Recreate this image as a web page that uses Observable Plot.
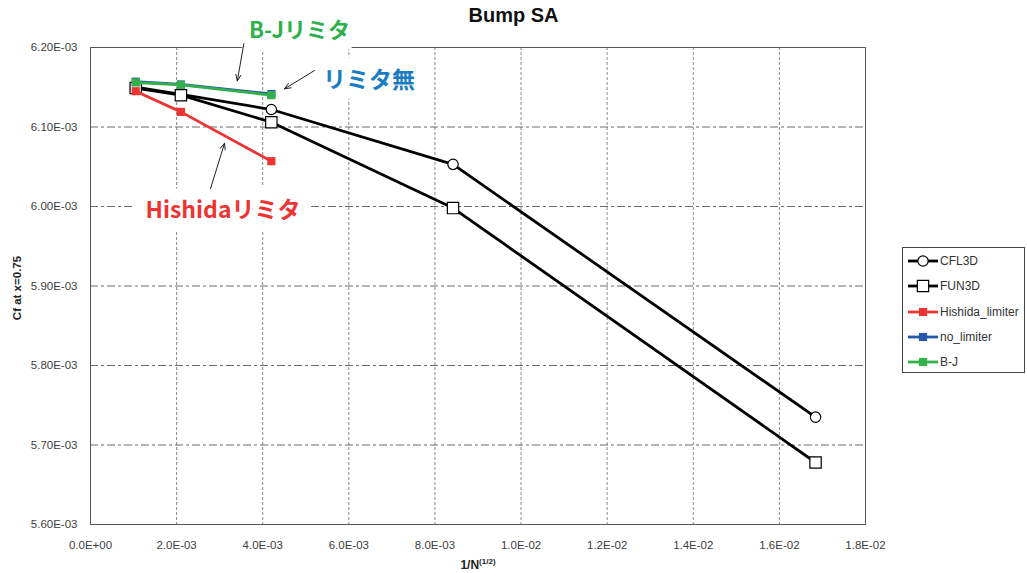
<!DOCTYPE html>
<html>
<head>
<meta charset="utf-8">
<script src="https://cdn.jsdelivr.net/npm/d3@7"></script>
<script src="https://cdn.jsdelivr.net/npm/@observablehq/plot@0.6"></script>
<style>
  html, body { margin: 0; padding: 0; background: white; }
  #wrap { position: relative; width: 1027px; height: 573px; overflow: hidden; font-family: "Liberation Sans", sans-serif; }
  #title { position: absolute; left: 0; width: 1027px; top: 4px; text-align: center; font: bold 20px "Liberation Sans", sans-serif; color: #111; }
  #xlabel { position: absolute; left: 478px; top: 564px; transform: translate(-50%, -50%); font: bold 12px "Liberation Sans", sans-serif; color: #222; white-space: nowrap; }
  #xlabel sup { font-size: 8px; }
  #ylabel { position: absolute; left: 17px; top: 288px; transform: translate(-50%, -50%) rotate(-90deg); font: bold 11.5px "Liberation Sans", sans-serif; color: #222; white-space: nowrap; }
  #legend { position: absolute; left: 902px; top: 247px; width: 123px; height: 126px; border: 1px solid #444; background: white; box-sizing: border-box; }
  .item { position: absolute; left: 4px; height: 14px; display: flex; align-items: center; font: 12px "Liberation Sans", sans-serif; color: #333; white-space: nowrap; }
  .item svg { margin-right: 1px; }
</style>
</head>
<body>
<div id="wrap">
  <div id="chart"></div>
  <div id="title">Bump SA</div>
  <div id="xlabel">1/N<sup>(1/2)</sup></div>
  <div id="ylabel">Cf at x=0.75</div>
  <div id="legend"></div>
</div>
<script>
// ---- data ----
const seriesNames = ["CFL3D", "FUN3D", "Hishida_limiter", "no_limiter", "B-J"];
const xN = [1.05e-3, 2.1e-3, 4.2e-3, 8.42e-3, 1.684e-2];
const cfl3d = [6.150e-3, 6.141e-3, 6.122e-3, 6.053e-3, 5.735e-3];
const fun3d = [6.149e-3, 6.140e-3, 6.106e-3, 5.998e-3, 5.678e-3];
const hishida = [6.145e-3, 6.119e-3, 6.057e-3];
const noLimiter = [6.157e-3, 6.1535e-3, 6.1415e-3];
const bj = [6.156e-3, 6.153e-3, 6.140e-3];
const xTicks = [0, 2e-3, 4e-3, 6e-3, 8e-3, 1.0e-2, 1.2e-2, 1.4e-2, 1.6e-2, 1.8e-2];
const yTicks = [5.60e-3, 5.70e-3, 5.80e-3, 5.90e-3, 6.00e-3, 6.10e-3, 6.20e-3];
const annotations = [
  {label: "B-Jリミタ", x: 4.855e-3, y: 6.2214e-3, color: "#2fb04c", size: 22},
  {label: "リミタ無", x: 6.469e-3, y: 6.1585e-3, color: "#1a7cc2", size: 23},
  {label: "Hishidaリミタ", x: 3.078e-3, y: 5.9943e-3, color: "#ee3333", size: 23}
];
const arrows = [
  {x1: 3.561e-3, y1: 6.2047e-3, x2: 3.410e-3, y2: 6.1579e-3},
  {x1: 5.203e-3, y1: 6.1711e-3, x2: 4.506e-3, y2: 6.1480e-3},
  {x1: 2.787e-3, y1: 6.0223e-3, x2: 3.113e-3, y2: 6.0796e-3}
];

// ---- styles per series ----
const styles = {
  "CFL3D": {stroke: "#000", symbol: "circle", fill: "white", r: 5.2, mstroke: "#000", width: 2.8},
  "FUN3D": {stroke: "#000", symbol: "square", fill: "white", r: 6.4, mstroke: "#000", width: 2.8},
  "Hishida_limiter": {stroke: "#ee3333", symbol: "square", fill: "#ee3333", r: 4.6, mstroke: "none", width: 2.8},
  "no_limiter": {stroke: "#2457ae", symbol: "square", fill: "#2457ae", r: 4.6, mstroke: "none", width: 2.8},
  "B-J": {stroke: "#33b04b", symbol: "square", fill: "#33b04b", r: 4.6, mstroke: "none", width: 2.8}
};
const values = [cfl3d, fun3d, hishida, noLimiter, bj];
const rows = [];
seriesNames.forEach((s, i) => values[i].forEach((v, j) => rows.push({series: s, x: xN[j], y: v})));

function excelExp(v, digits) {
  if (v === 0) return (0).toFixed(digits) + "E+00";
  let e = Math.floor(Math.log10(Math.abs(v)) + 1e-9);
  let m = v / Math.pow(10, e);
  if (Math.abs(+m.toFixed(digits)) >= 10) { e += 1; m = v / Math.pow(10, e); }
  return m.toFixed(digits) + "E" + (e < 0 ? "-" : "+") + String(Math.abs(e)).padStart(2, "0");
}

const marks = [
  Plot.ruleX(xTicks.slice(1, -1), {stroke: "#8a8a8a", strokeDasharray: "3,2", strokeWidth: 1}),
  Plot.ruleY(yTicks.slice(1, -1), {stroke: "#6a6a6a", strokeDasharray: "8,3,3,3", strokeWidth: 1}),
  Plot.frame({stroke: "#555"})
];
annotations.forEach(a => {
  marks.push(Plot.text([a], {x: "x", y: "y", text: "label", fill: a.color, stroke: "white", strokeWidth: 26,
    strokeLinejoin: "round", fontSize: a.size, fontWeight: "bold", fontFamily: "Noto Sans CJK JP"}));
});
marks.push(Plot.arrow(arrows, {x1: "x1", y1: "y1", x2: "x2", y2: "y2", stroke: "#222", strokeWidth: 1, headLength: 10, headAngle: 45}));
seriesNames.forEach(s => {
  const st = styles[s];
  const d = rows.filter(r => r.series === s);
  marks.push(Plot.line(d, {x: "x", y: "y", stroke: st.stroke, strokeWidth: st.width}));
  marks.push(Plot.dot(d, {x: "x", y: "y", symbol: st.symbol, r: st.r, fill: st.fill, stroke: st.mstroke, strokeWidth: 1.2}));
});
marks.push(Plot.axisX(xTicks, {tickSize: 0, tickPadding: 16, tickFormat: d => excelExp(d, 1), label: null}));
marks.push(Plot.axisY(yTicks, {tickSize: 0, tickPadding: 13, tickFormat: d => excelExp(d, 2), label: null}));

const chart = Plot.plot({
  width: 1027,
  height: 573,
  marginLeft: 90,
  marginRight: 162,
  marginTop: 47,
  marginBottom: 49,
  x: {domain: [0, 0.018]},
  y: {domain: [5.6e-3, 6.2e-3]},
  style: {fontFamily: "Liberation Sans, sans-serif", fontSize: "11.5px", color: "#404040", background: "white"},
  marks
});
document.getElementById("chart").appendChild(chart);

// ---- legend ----
const legend = d3.select("#legend");
seriesNames.forEach((s, i) => {
  const st = styles[s];
  const item = legend.append("div").attr("class", "item").style("top", (6 + i * 25.3) + "px");
  const svg = item.append("svg").attr("width", 32).attr("height", 14);
  svg.append("line").attr("x1", 1).attr("x2", 31).attr("y1", 7).attr("y2", 7).attr("stroke", st.stroke).attr("stroke-width", 2.8);
  const sym = st.symbol === "circle" ? d3.symbolCircle : d3.symbolSquare;
  svg.append("path").attr("transform", "translate(16,7)")
    .attr("d", d3.symbol(sym, Math.PI * st.r * st.r)())
    .attr("fill", st.fill).attr("stroke", st.mstroke).attr("stroke-width", 1.2);
  item.append("span").text(s);
});
</script>
</body>
</html>
